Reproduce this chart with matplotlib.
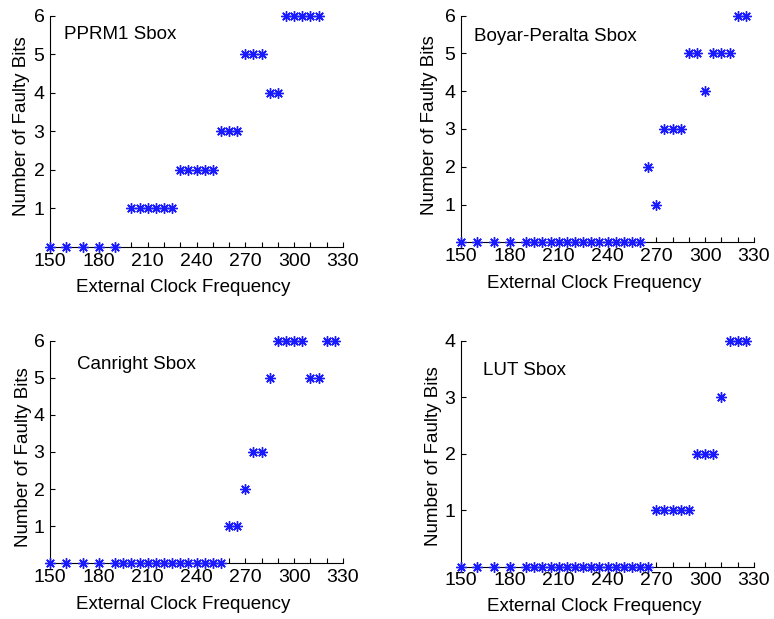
import matplotlib
matplotlib.use("Agg")
import matplotlib.pyplot as plt

plt.rcParams["font.family"] = ["Liberation Sans", "DejaVu Sans"]

# PPRM1 Sbox
pprm1_freq = [150, 160, 170, 180, 190,
              200, 205, 210, 215, 220, 225,
              230, 235, 240, 245, 250,
              255, 260, 265,
              270, 275, 280,
              285, 290,
              295, 300, 305, 310, 315]
pprm1_bits = [0, 0, 0, 0, 0,
              1, 1, 1, 1, 1, 1,
              2, 2, 2, 2, 2,
              3, 3, 3,
              5, 5, 5,
              4, 4,
              6, 6, 6, 6, 6]

# Boyar-Peralta Sbox
boyar_freq = [150, 160, 170, 180,
              190, 195, 200, 205, 210, 215, 220, 225, 230, 235, 240, 245, 250, 255, 260,
              265, 270,
              275, 280, 285,
              290, 295,
              300,
              305, 310, 315,
              320, 325]
boyar_bits = [0, 0, 0, 0,
              0, 0, 0, 0, 0, 0, 0, 0, 0, 0, 0, 0, 0, 0, 0,
              2, 1,
              3, 3, 3,
              5, 5,
              4,
              5, 5, 5,
              6, 6]

# Canright Sbox
canright_freq = [150, 160, 170, 180,
                 190, 195, 200, 205, 210, 215, 220, 225, 230, 235, 240, 245, 250, 255,
                 260, 265,
                 270,
                 275, 280,
                 285,
                 290, 295, 300, 305,
                 310, 315,
                 320, 325]
canright_bits = [0, 0, 0, 0,
                 0, 0, 0, 0, 0, 0, 0, 0, 0, 0, 0, 0, 0, 0,
                 1, 1,
                 2,
                 3, 3,
                 5,
                 6, 6, 6, 6,
                 5, 5,
                 6, 6]

# LUT Sbox
lut_freq = [150, 160, 170, 180,
            190, 195, 200, 205, 210, 215, 220, 225, 230, 235, 240, 245, 250, 255, 260, 265,
            270, 275, 280, 285, 290,
            295, 300, 305,
            310,
            315, 320, 325]
lut_bits = [0, 0, 0, 0,
            0, 0, 0, 0, 0, 0, 0, 0, 0, 0, 0, 0, 0, 0, 0, 0,
            1, 1, 1, 1, 1,
            2, 2, 2,
            3,
            4, 4, 4]

x_major = [150, 180, 210, 240, 270, 300, 330]
x_minor = [160, 170, 190, 200, 220, 230, 250, 260, 280, 290, 310, 320]

W, H = 774, 619
# box = (left, bottom, right, top) in pixels from the top-left corner
panels = [
    dict(box=(50, 247, 343, 15.7), freq=pprm1_freq, bits=pprm1_bits, ymax=6,
         name="PPRM1 Sbox", name_xy=(0.048, 0.917), ylab=(-0.097, 0.523), xlab=(0.455, -0.173)),
    dict(box=(461, 242.3, 754, 15.7), freq=boyar_freq, bits=boyar_bits, ymax=6,
         name="Boyar-Peralta Sbox", name_xy=(0.045, 0.907), ylab=(-0.106, 0.518), xlab=(0.455, -0.18)),
    dict(box=(50, 563.3, 343, 340.7), freq=canright_freq, bits=canright_bits, ymax=6,
         name="Canright Sbox", name_xy=(0.093, 0.891), ylab=(-0.091, 0.479), xlab=(0.455, -0.187)),
    dict(box=(461, 566.7, 754, 340.7), freq=lut_freq, bits=lut_bits, ymax=4,
         name="LUT Sbox", name_xy=(0.074, 0.870), ylab=(-0.093, 0.491), xlab=(0.455, -0.177)),
]

fig = plt.figure(figsize=(W / 100, H / 100), dpi=100)

for p in panels:
    l, b, r, t = p["box"]
    ax = fig.add_axes([l / W, 1 - b / H, (r - l) / W, (b - t) / H])
    ax.plot(p["freq"], p["bits"], linestyle="none", marker=(8, 2, 0),
            markersize=7.5, markeredgewidth=1.0, color="#1a1aff", clip_on=False, zorder=3)
    ax.set_xlim(150, 330)
    ax.set_ylim(0, p["ymax"])
    ax.set_xticks(x_major)
    ax.set_xticks(x_minor, minor=True)
    ax.set_yticks(list(range(1, p["ymax"] + 1)))
    ax.tick_params(axis="both", which="both", direction="in", length=3.5, width=0.8,
                   labelsize=14, top=False, right=False)
    ax.tick_params(axis="x", which="both", pad=4)
    ax.tick_params(axis="y", pad=4)
    for side in ("top", "right"):
        ax.spines[side].set_visible(False)
    for side in ("left", "bottom"):
        ax.spines[side].set_linewidth(0.8)
    ax.set_xlabel("External Clock Frequency", fontsize=13.5, va="center")
    ax.set_ylabel("Number of Faulty Bits", fontsize=13.5, va="center")
    ax.xaxis.set_label_coords(*p["xlab"])
    ax.yaxis.set_label_coords(*p["ylab"])
    ax.text(p["name_xy"][0], p["name_xy"][1], p["name"], transform=ax.transAxes,
            fontsize=13.5, ha="left", va="center")

fig.savefig("out.png", dpi=100)
